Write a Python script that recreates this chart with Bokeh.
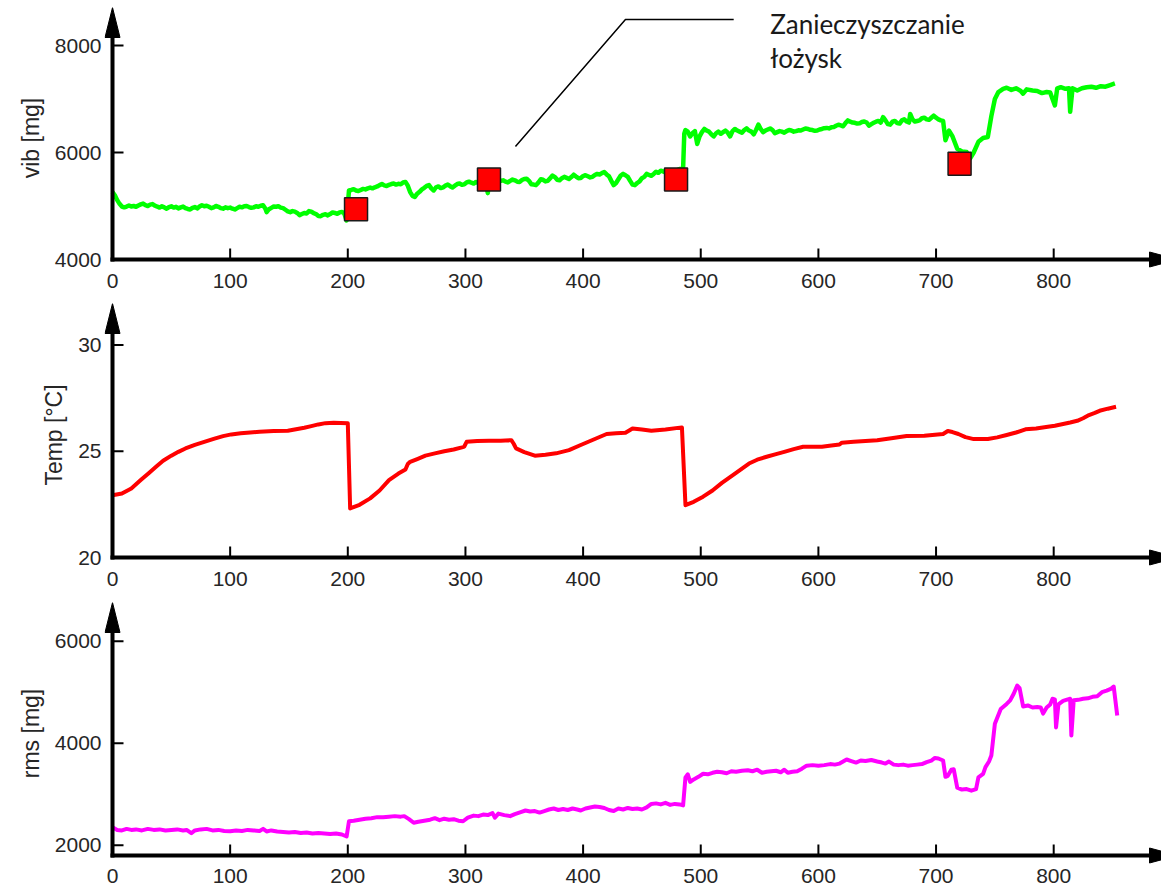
from bokeh.plotting import figure
from bokeh.layouts import column
from bokeh.models import Range1d, FixedTicker
from bokeh.embed import file_html
from bokeh.resources import INLINE
from bokeh.core.properties import value

# ---------------- data ----------------
x_ticks = [0, 100, 200, 300, 400, 500, 600, 700, 800]

vib_x = [0, 2, 4, 6, 8, 10, 12, 14, 16, 18,
         20, 22, 24, 26, 28, 30, 32, 34, 36, 38,
         40, 42, 44, 46, 48, 50, 52, 54, 56, 58,
         60, 62, 64, 66, 68, 70, 72, 74, 76, 78,
         80, 82, 84, 86, 88, 90, 92, 94, 96, 98,
         100, 102, 104, 106, 108, 110, 112, 114, 116, 118,
         120, 122, 124, 126, 128, 130, 131, 133, 135, 137,
         139, 141, 143, 145, 147, 149, 151, 153, 155, 157,
         159, 161, 163, 165, 167, 169, 171, 173, 175, 177,
         179, 181, 183, 185, 187, 189, 191, 193, 195, 197,
         199,
         201, 203, 205, 207, 209, 211, 213, 215, 217, 219,
         221, 223, 225, 227, 229, 231, 233, 235, 237, 239,
         241, 243, 245, 247, 249, 251, 253, 255, 257, 259,
         261, 263, 265, 267, 269, 271, 273, 275, 277, 279,
         281, 283, 285, 287, 289, 291, 293, 295, 297, 299,
         301, 303, 305, 307, 309, 311, 313, 315, 317, 319,
         320, 322, 324, 326, 328, 330, 332, 334, 336, 338,
         340, 342, 344, 346, 348, 350, 352, 354, 356, 358,
         360, 362, 364, 366, 368, 370, 372, 374, 376, 378,
         380, 382, 384, 386, 388, 390, 392, 394, 396, 398,
         400, 402, 404, 406, 408, 410, 412, 414, 416, 418,
         420, 422, 424, 426, 428, 430, 432, 434, 436, 438,
         440, 442, 444, 446, 448, 450, 452, 454, 456, 458,
         460, 462, 464, 466, 468, 470, 472, 474, 476, 478,
         480, 482, 485,
         486, 487, 489, 491, 493, 495, 497, 499, 501, 503,
         505, 507, 509, 511, 513, 515, 517, 519, 521, 523,
         525, 527, 529, 531, 533, 535, 537, 539, 541, 543,
         545, 547, 549, 551, 553, 555, 557, 559, 561, 563,
         565, 567, 569, 571, 573, 575, 577, 579, 581, 583,
         585, 587, 589, 591, 593, 595, 597, 599, 601, 603,
         605, 607, 609, 611, 613, 615, 617, 619, 621, 623,
         625, 627, 629, 631, 633, 635, 637, 639, 641, 643,
         645, 647, 649, 651, 653, 655, 657, 659, 661, 663,
         665, 667, 669, 671, 673, 675, 677, 678, 680, 682,
         684, 686, 688, 690, 692, 694, 696, 698, 700, 702,
         704, 706,
         708, 711, 714, 718, 722, 726, 729, 732, 736, 740,
         744, 747, 750, 753, 757, 760, 764, 768, 772, 774,
         777, 782, 786, 790, 794, 797, 801, 803, 806, 810,
         813, 814, 816, 820, 824, 828, 832, 836, 840, 844,
         848, 852]
vib_y = [5260, 5200, 5110, 5040, 4990, 4975, 4990, 5010, 4990, 5000,
         4985, 5010, 5030, 5045, 5015, 5000, 5025, 5035, 5005, 4990,
         4970, 4995, 4975, 4950, 4980, 4995, 4970, 4985, 4955, 4975,
         4990, 4960, 4945, 4935, 4965, 4980, 4955, 4990, 5015, 4995,
         5005, 4985, 4960, 4975, 5000, 4985, 4960, 4950, 4975, 4960,
         4970, 4950, 4935, 4960, 4985, 4975, 4995, 5000, 4980, 4965,
         4975, 4995, 4985, 5005, 5015, 4950, 4885, 4940, 4965, 4990,
         4985, 4995, 4970, 4960, 4930, 4900, 4885, 4905, 4895, 4870,
         4830, 4850, 4870, 4860, 4905, 4895, 4865, 4850, 4815, 4810,
         4835, 4845, 4825, 4850, 4880, 4870, 4855, 4880, 4890, 4860,
         4730,
         5290, 5300, 5315, 5290, 5280, 5300, 5320, 5310, 5330, 5345,
         5330, 5350, 5365, 5390, 5410, 5385, 5375, 5395, 5410, 5420,
         5400, 5415, 5405, 5440, 5450, 5380, 5260, 5190, 5170, 5230,
         5265, 5310, 5340, 5375, 5390, 5330, 5290, 5350, 5365, 5335,
         5350, 5380, 5400, 5370, 5345, 5380, 5410, 5420, 5395, 5405,
         5440, 5455, 5435, 5420, 5450, 5430, 5460, 5475, 5455, 5240,
         5470, 5480, 5455, 5465, 5490, 5470, 5480, 5455, 5440, 5470,
         5495, 5480, 5455, 5450, 5485, 5505, 5510, 5470, 5405, 5400,
         5390, 5440, 5500, 5490, 5460, 5470, 5520, 5570, 5540, 5490,
         5480, 5520, 5545, 5525, 5505, 5540, 5585, 5550, 5520, 5525,
         5560, 5575, 5555, 5535, 5545, 5580, 5600, 5590, 5615, 5635,
         5590, 5555, 5470, 5390, 5430, 5500, 5570, 5600, 5575, 5545,
         5470, 5400, 5390, 5430, 5460, 5520, 5545, 5600, 5580, 5565,
         5600, 5640, 5620, 5660, 5645, 5625, 5640, 5655, 5650, 5665,
         5670, 5690, 5700,
         6350, 6420, 6390, 6300, 6360, 6400, 6160, 6300, 6380, 6440,
         6410, 6390, 6340, 6300, 6360, 6390, 6350, 6380, 6410, 6370,
         6300, 6400, 6440, 6410, 6390, 6370, 6420, 6450, 6410, 6390,
         6340, 6420, 6520, 6440, 6380, 6410, 6430, 6450, 6420, 6360,
         6380, 6400, 6390, 6370, 6400, 6420, 6410, 6390, 6400, 6415,
         6410, 6430, 6450, 6440, 6425, 6420, 6405, 6410, 6430, 6440,
         6455, 6460, 6450, 6470, 6475, 6500, 6520, 6505, 6490, 6550,
         6600, 6575, 6560, 6555, 6540, 6545, 6570, 6580, 6560, 6500,
         6530, 6555, 6575, 6590, 6560, 6660, 6600, 6530, 6520, 6575,
         6590, 6550, 6540, 6600, 6620, 6580, 6560, 6720, 6620, 6580,
         6590, 6600, 6640, 6650, 6620, 6610, 6650, 6690, 6650, 6620,
         6600, 6590,
         6230, 6410, 6300, 6070, 6020, 6010, 5890, 6000, 6200, 6270,
         6290, 6680, 7000, 7130, 7190, 7210, 7170, 7200, 7150, 7100,
         7180, 7160, 7150, 7110, 7130, 7120, 6880, 7200, 7220, 7190,
         7200, 6760, 7200, 7160, 7200, 7220, 7230, 7210, 7240, 7230,
         7260, 7290]

marker_x = [207, 320, 479, 720]
marker_y = [4940, 5495, 5495, 5790]

temp_x = [0, 8, 16, 24, 31, 37, 43, 50, 56, 62, 70, 78, 86, 94, 101, 109, 117, 125, 137, 149,
          156, 163, 169, 175, 181, 188, 194, 200, 202, 210, 219, 227, 235, 243, 249, 251, 253, 259, 266, 274,
          282, 290, 297, 299, 301, 310, 320, 330, 339, 341, 343, 350, 359, 368, 377, 388, 398, 409, 420, 428,
          436, 442, 450, 458, 470, 484, 487, 494, 502, 510, 518, 530, 541, 548, 556, 564, 571, 579, 587, 595,
          603, 611, 618, 620, 630, 640, 650, 662, 675, 690, 706, 710, 714, 719, 725, 732, 744, 752, 760, 768,
          776, 785, 795, 801, 808, 814, 820, 825, 830, 835, 839, 846, 853]
temp_y = [22.93, 23.01, 23.25, 23.64, 23.98, 24.27, 24.55, 24.79, 24.97, 25.13, 25.30, 25.44, 25.58, 25.71, 25.79, 25.84, 25.88, 25.92, 25.95, 25.96,
          26.03, 26.10, 26.18, 26.26, 26.32, 26.34, 26.33, 26.31, 22.31, 22.48, 22.78, 23.15, 23.64, 23.95, 24.14, 24.40, 24.50, 24.63, 24.79, 24.90,
          25.00, 25.08, 25.18, 25.22, 25.44, 25.48, 25.49, 25.49, 25.52, 25.35, 25.13, 24.96, 24.79, 24.83, 24.90, 25.05, 25.29, 25.55, 25.81, 25.84,
          25.87, 26.07, 26.02, 25.96, 26.02, 26.12, 22.46, 22.62, 22.86, 23.15, 23.51, 23.98, 24.42, 24.60, 24.74, 24.86, 24.97, 25.10, 25.21, 25.21,
          25.21, 25.27, 25.32, 25.40, 25.44, 25.48, 25.52, 25.61, 25.71, 25.73, 25.81, 25.95, 25.90, 25.81, 25.66, 25.57, 25.57, 25.65, 25.76, 25.88,
          26.03, 26.07, 26.15, 26.20, 26.28, 26.35, 26.43, 26.55, 26.70, 26.80, 26.90, 27.00, 27.09]

rms_x = [0, 4, 8, 12, 16, 20, 25, 30, 35, 40, 45, 50, 55, 60, 63, 67, 70, 75, 80, 85,
         90, 95, 100, 105, 110, 115, 120, 125, 128, 131, 135, 140, 145, 150, 155, 160, 165, 170, 175, 180,
         185, 190, 195, 199, 201, 205, 210, 215, 220, 225, 230, 235, 240, 245, 248, 252, 256, 260, 265, 270,
         274, 278, 282, 286, 290, 294, 298, 302, 307, 311, 315, 319, 323, 325, 328, 333, 338, 342, 347, 351,
         355, 359, 363, 367, 371, 375, 379, 383, 387, 391, 395, 398, 402, 406, 410, 414, 418, 422, 426, 430,
         434, 438, 442, 446, 450, 454, 458, 462, 466, 470, 474, 478, 482, 485, 487, 489, 491, 494, 498, 502,
         506, 510, 514, 518, 522, 526, 530, 535, 540, 544, 548, 552, 556, 560, 564, 568, 571, 574, 578, 582,
         586, 590, 595, 600, 605, 610, 614, 618, 621, 624, 628, 632, 636, 640, 645, 650, 654, 657, 660, 664,
         668, 672, 676, 680, 684, 688, 692, 696, 699, 702, 706, 708, 710, 713, 715, 718, 722, 726, 730, 734,
         736, 740, 742, 745, 747, 750, 755, 760, 763, 766, 769, 771, 774, 778, 782, 786, 789, 791, 794, 797,
         799, 801, 802, 804, 808, 812, 814, 815, 817, 821, 825, 829, 833, 837, 841, 845, 849, 851, 854]
rms_y = [2350, 2300, 2290, 2320, 2300, 2310, 2290, 2320, 2300, 2310, 2290, 2300, 2310, 2290, 2300, 2235, 2290, 2310, 2320, 2290,
         2300, 2280, 2275, 2290, 2280, 2300, 2290, 2280, 2320, 2270, 2290, 2270, 2260, 2250, 2260, 2240, 2250, 2230, 2240, 2230,
         2220, 2230, 2210, 2170, 2470, 2480, 2500, 2520, 2530, 2550, 2550, 2560, 2570, 2560, 2570, 2510, 2440, 2460, 2480, 2500,
         2530, 2490, 2520, 2500, 2510, 2480, 2470, 2540, 2580, 2570, 2600, 2590, 2630, 2540, 2620, 2590, 2570, 2610, 2650, 2680,
         2660, 2670, 2640, 2670, 2700, 2720, 2690, 2710, 2690, 2720, 2700, 2680, 2720, 2740, 2760, 2750, 2730, 2690, 2670, 2720,
         2700, 2730, 2710, 2720, 2700, 2740, 2810, 2820, 2800, 2830, 2790, 2810, 2800, 2780, 3330, 3390, 3240, 3290, 3340, 3400,
         3390, 3420, 3440, 3430, 3410, 3450, 3440, 3460, 3470, 3450, 3480, 3420, 3440, 3450, 3460, 3430, 3480, 3420, 3440, 3450,
         3500, 3560, 3570, 3560, 3570, 3590, 3580, 3600, 3640, 3680, 3650, 3620, 3660, 3650, 3670, 3640, 3620, 3600, 3640, 3580,
         3570, 3580, 3560, 3570, 3580, 3590, 3630, 3660, 3710, 3700, 3660, 3340, 3360, 3480, 3490, 3130, 3090, 3100, 3070, 3100,
         3330, 3400, 3530, 3640, 3760, 4380, 4670, 4770, 4840, 4970, 5130, 5080, 4720, 4740, 4700, 4710, 4700, 4580, 4700, 4760,
         4870, 4860, 4310, 4760, 4830, 4860, 4870, 4150, 4840, 4850, 4870, 4880, 4910, 4920, 5000, 5030, 5070, 5110, 4545]

vib_ticks = [4000, 6000, 8000]
temp_ticks = [20, 25, 30]
rms_ticks = [2000, 4000, 6000]

note_lines = ["Zanieczyszczanie", "łożysk"]
note_x = 559
note_y = [8410, 7760]
leader_x = [342.5, 436, 528]
leader_y = [6112, 8486, 8486]

# ---------------- layout constants (pixels) ----------------
W = 1161
AXIS_PX = 112          # canvas x of the vertical axis (x = 0)
LEFT = 104             # frame starts a little left of the axis so the arrow head fits
XSCALE = 1.1765        # pixels per x unit
BELOW = 9              # frame extends this far below the horizontal axis
TICK_COLOR = "#262626"


def panel(height, top, above_px, base, units_per_px, yticks, ylabel, xstandoff):
    frame_h = above_px + BELOW
    bottom = height - top - frame_h
    ux = 1.0 / XSCALE
    uy = units_per_px
    x0 = -(AXIS_PX - LEFT) * ux
    x1 = (W - AXIS_PX) * ux
    y0 = base - BELOW * uy
    y1 = base + above_px * uy
    p = figure(width=W, height=height, x_range=Range1d(x0, x1), y_range=Range1d(y0, y1),
               output_backend="svg", toolbar_location=None,
               min_border_left=LEFT, min_border_right=0,
               min_border_top=top, min_border_bottom=bottom)
    p.outline_line_color = None
    p.xgrid.visible = False
    p.ygrid.visible = False
    p.background_fill_color = "white"
    p.border_fill_color = "white"
    for ax in (p.xaxis[0], p.yaxis[0]):
        ax.axis_line_color = None
        ax.major_tick_line_color = None
        ax.minor_tick_line_color = None
        ax.major_tick_in = 0
        ax.major_tick_out = 0
        ax.major_label_text_font = "Liberation Sans"
        ax.major_label_text_font_size = "21px"
        ax.major_label_text_color = TICK_COLOR
    p.xaxis[0].ticker = FixedTicker(ticks=x_ticks)
    p.yaxis[0].ticker = FixedTicker(ticks=yticks)
    p.xaxis[0].major_label_standoff = xstandoff
    p.yaxis[0].major_label_standoff = 3
    p.yaxis[0].axis_label = ylabel
    p.yaxis[0].axis_label_text_font = "Liberation Sans"
    p.yaxis[0].axis_label_text_font_size = "23px"
    p.yaxis[0].axis_label_text_font_style = "normal"
    p.yaxis[0].axis_label_text_color = TICK_COLOR
    p.yaxis[0].axis_label_standoff = 8
    p._geom = dict(ux=ux, uy=uy, x1=x1, y1=y1, base=base, yticks=yticks)
    return p


def draw_axes(p):
    g = p._geom
    ux, uy, x1, y1, base = g["ux"], g["uy"], g["x1"], g["y1"], g["base"]
    # axis lines
    p.line([0, x1 + 30 * ux], [base, base], line_color="black", line_width=4, line_cap="square")
    p.line([0, 0], [base, y1 - 10 * uy], line_color="black", line_width=4, line_cap="square")
    # inward ticks
    p.segment(x0=x_ticks, y0=[base] * len(x_ticks), x1=x_ticks,
              y1=[base + 11 * uy] * len(x_ticks), line_color="black", line_width=2)
    yt = g["yticks"]
    p.segment(x0=[0] * len(yt), y0=yt, x1=[11 * ux] * len(yt), y1=yt,
              line_color="black", line_width=2)
    # arrow heads
    p.patch([0, -7.5 * ux, 7.5 * ux], [y1, y1 - 30 * uy, y1 - 30 * uy],
            fill_color="black", line_color="black", line_width=1)
    tip = x1 + 16 * ux
    p.patch([tip, tip - 28 * ux, tip - 28 * ux], [base, base + 7.5 * uy, base - 7.5 * uy],
            fill_color="black", line_color="black", line_width=1)


p1 = panel(297, 7, 252, 4000, 1000 / 53.5, vib_ticks, "vib [mg]", 5)
p1.line(vib_x, vib_y, line_color="#00ff00", line_width=4.5, line_join="round")
draw_axes(p1)
p1.scatter(marker_x, marker_y, marker="square", size=23, fill_color="#ff0000",
           line_color="#1a1a1a", line_width=1.5)
p1.line(leader_x, leader_y, line_color="black", line_width=1.5)
p1.text(x=[note_x, note_x], y=note_y, text=note_lines, text_font=value("Lato"),
        text_font_size="26px", text_color="#1a1a1a", text_baseline="alphabetic")

p2 = panel(298, 6, 254, 20, 5 / 106.3, temp_ticks, "Temp [°C]", 5)
p2.line(temp_x, temp_y, line_color="#ff0000", line_width=4, line_join="round")
draw_axes(p2)

p3 = panel(297, 7, 253, 1798, 1000 / 51.0, rms_ticks, "rms [mg]", 4)
p3.line(rms_x, rms_y, line_color="#ff00ff", line_width=4, line_join="round")
draw_axes(p3)

layout = column(p1, p2, p3, spacing=0)
open("out.html", "w").write(file_html(layout, INLINE))
